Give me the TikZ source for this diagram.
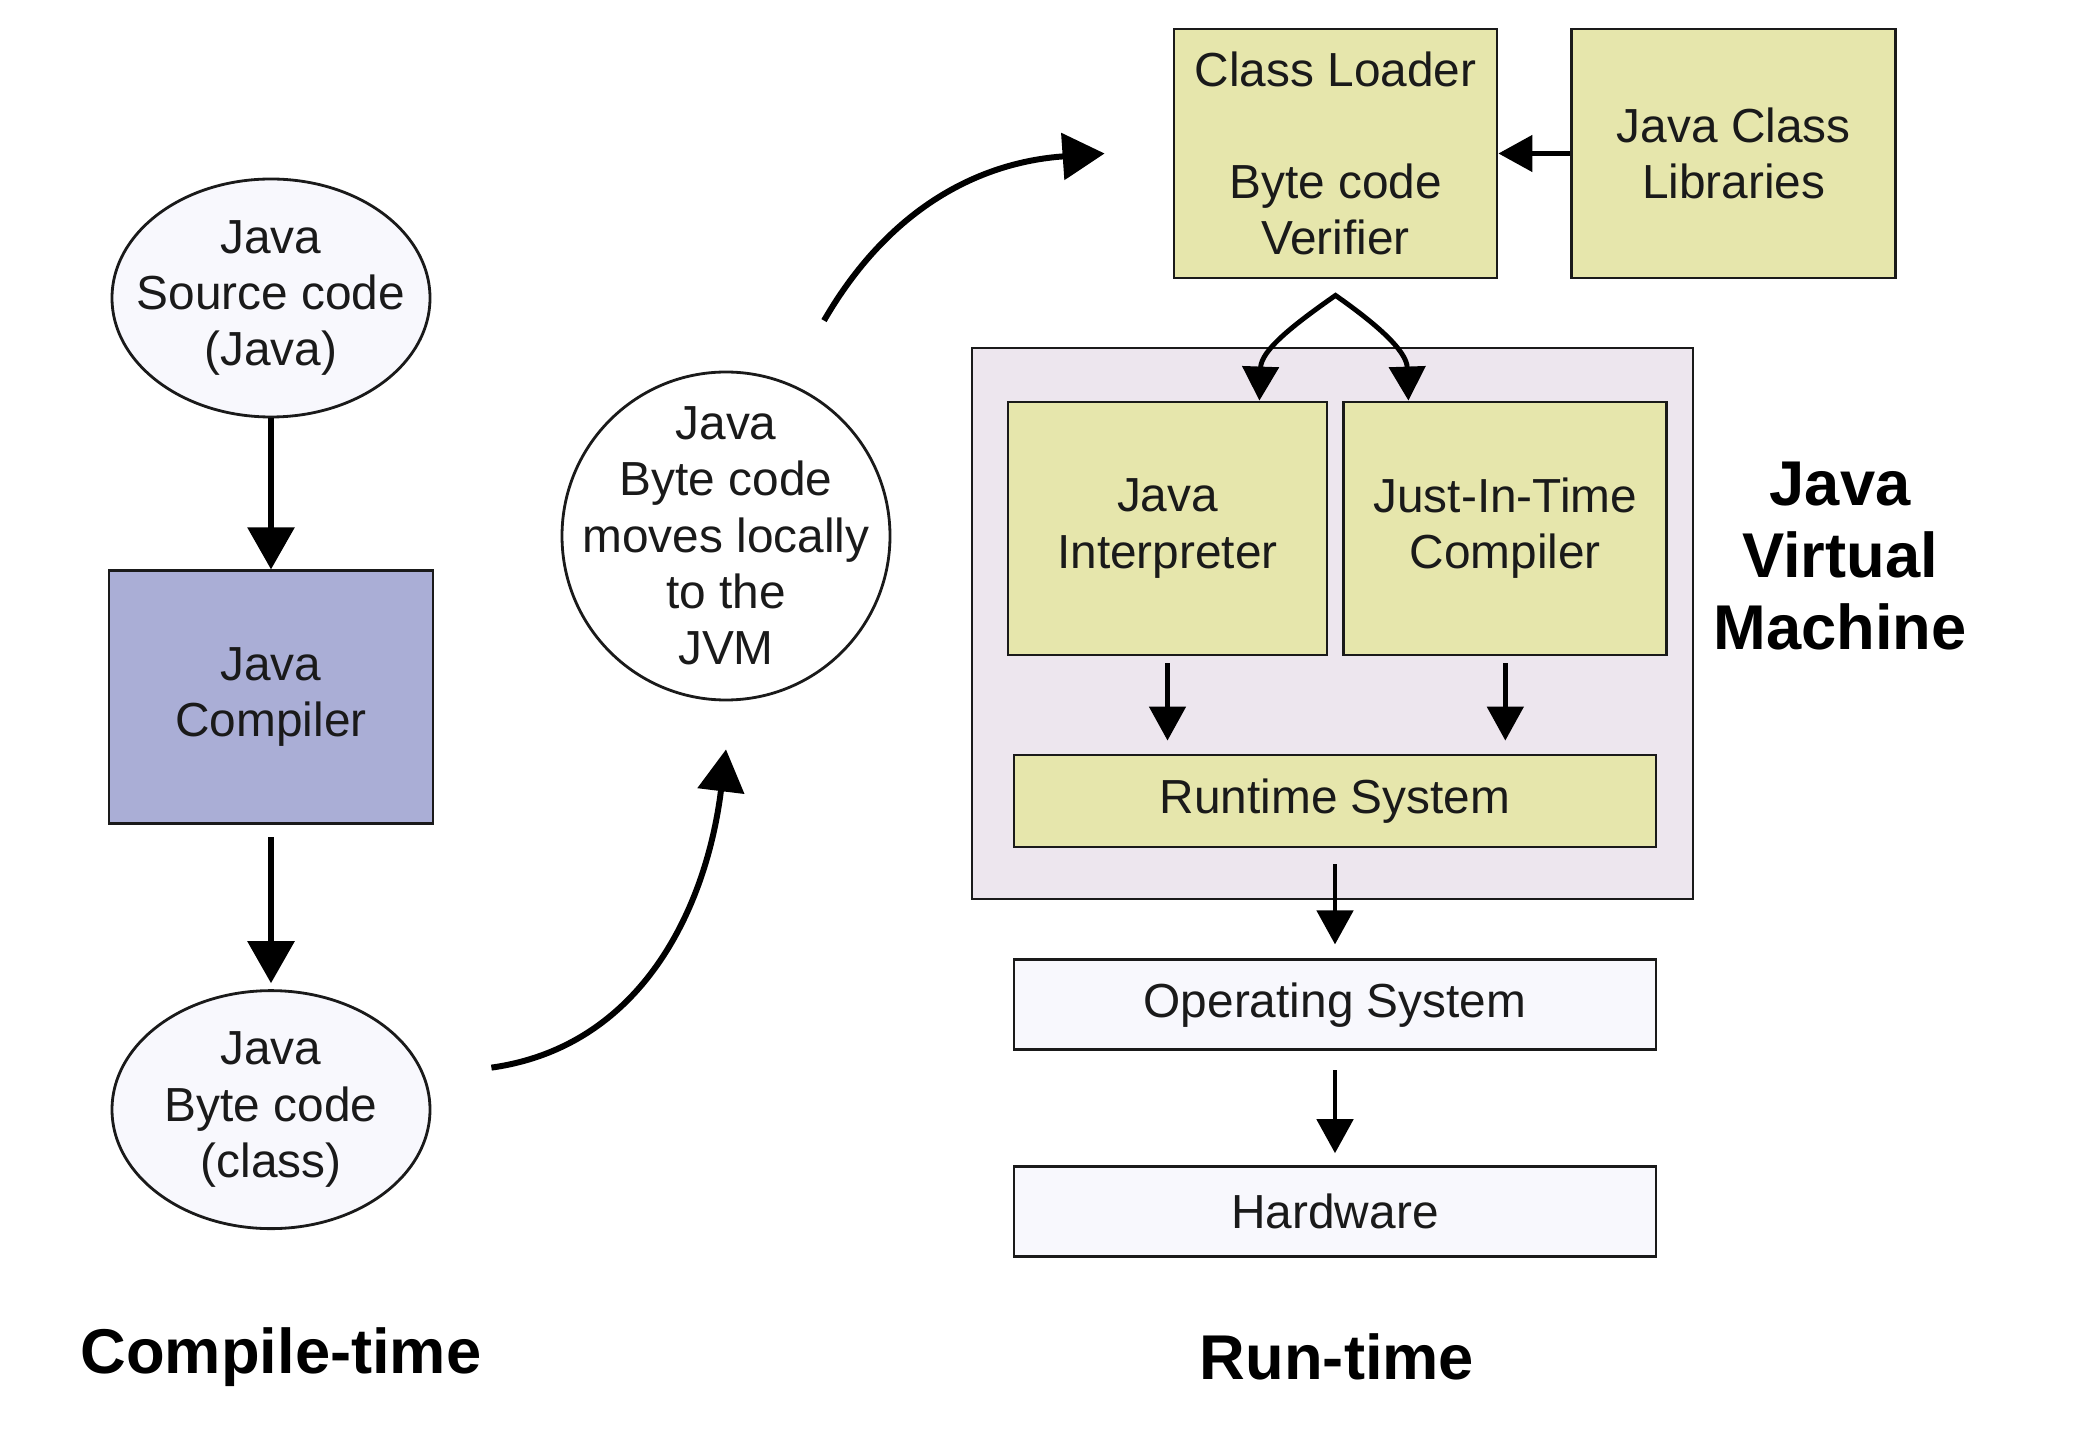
\documentclass[tikz,border=0pt]{standalone}
\usepackage{fontspec}
\setmainfont{Liberation Sans}
\usetikzlibrary{positioning, arrows.meta, calc, shapes.geometric}

\definecolor{khaki}{RGB}{230,230,172}
\definecolor{lavender}{RGB}{170,174,214}
\definecolor{jvmpink}{RGB}{237,230,238}
\definecolor{paleblue}{RGB}{248,248,253}
\definecolor{ink}{RGB}{26,26,26}

\begin{document}
\begin{tikzpicture}[
  >={Triangle[width=0.36cm, length=0.34cm]},
  every node/.style={font=\fontsize{13.6}{16}\selectfont, text=ink},
  blk/.style   = {draw=ink, line width=0.8pt, align=center, inner sep=2pt},
  lbl/.style   = {align=center},
  oval/.style  = {blk, ellipse, fill=paleblue, minimum width=3.18cm, minimum height=2.38cm},
  tan/.style   = {blk, fill=khaki},
  sys/.style   = {blk, fill=paleblue, minimum width=6.42cm, minimum height=0.9cm},
  title/.style = {font=\fontsize{18}{20.5}\selectfont\bfseries, align=center, text=black},
  big/.style   = {-{Triangle[width=0.46cm, length=0.42cm]}, line width=1.7pt},
  arr/.style   = {->, line width=1.4pt},
]
  \fill[white] (0,0) rectangle (20.76,14.34);
  \useasboundingbox (0,0) rectangle (20.76,14.34);

  % Compile-time column: source -> compiler -> class file.
  \node[oval] (src) at (2.71,11.36) {};
  \node[lbl] at (src) {Java\\Source code\\(Java)};
  \node[blk, fill=lavender, minimum width=3.24cm, minimum height=2.53cm,
        below=1.51cm of src] (javac) {Java\\Compiler};
  \node[oval, below=1.64cm of javac] (cls) {};
  \node[lbl] at (cls) {Java\\Byte code\\(class)};
  \draw[big] (src) -- (javac);
  \draw[big, shorten <=0.12cm, shorten >=0.06cm] (javac) -- (cls);

  % Byte code travels to the JVM.
  \node[blk, circle, fill=white, minimum size=3.28cm] (move) at (7.26,8.98) {};
  \node[lbl] at (move) {Java\\Byte code\\moves locally\\to the\\JVM};
  \coordinate (c1) at ([shift={(0.6,0.42)}]cls.east);
  \coordinate (c2) at ([shift={(0.98,0.5)}]move.north);
  \draw[big] (c1) to[out=8, in=-97] ([yshift=-0.48cm]move.south);

  % Run-time: loader, JVM and the layers under it.
  \node[tan, minimum width=3.23cm, minimum height=2.49cm] (loader) at (13.355,12.805)
        {Class Loader\\[\baselineskip]Byte code\\Verifier};
  \node[tan, minimum width=3.24cm, minimum height=2.49cm, right=0.72cm of loader] (libs)
        {Java Class\\Libraries};
  \draw[big] (c2) to[out=60, in=184] ([xshift=-0.68cm]loader.west);
  \draw[arr] (libs) -- (loader);

  \node[blk, fill=jvmpink, minimum width=7.21cm, minimum height=5.51cm] (jvm) at (13.325,8.105) {};
  \node[tan, minimum width=3.19cm, minimum height=2.53cm] (interp) at (11.675,9.055) {Java\\Interpreter};
  \node[tan, minimum width=3.23cm, minimum height=2.53cm, right=0.14cm of interp] (jit) {Just-In-Time\\Compiler};
  \node[tan, minimum width=6.42cm, minimum height=0.92cm] (rts) at (13.35,6.33) {Runtime System};
  \node[sys, below=1.1cm of rts] (os) {Operating System};
  \node[sys, below=1.14cm of os]  (hw) {Hardware};
  \node[title] (jvmlbl) at (18.40,8.78) {Java\\Virtual\\Machine};

  \draw[arr, <->] ([xshift=-0.69cm]interp.north east) to[out=88, in=215]
        ([yshift=-0.16cm]loader.south) to[out=-35, in=92] ([xshift=0.66cm]jit.north west);
  \foreach \a in {interp, jit}
     \draw[arr, shorten <=0.07cm, shorten >=0.13cm] (\a.south) -- (\a.south |- rts.north);
  \draw[arr, shorten <=0.16cm, shorten >=0.14cm] (rts) -- (os);
  \draw[arr, shorten <=0.19cm, shorten >=0.12cm] (os) -- (hw);

  \node[title] (ct) at (2.81,0.77)  {Compile-time};
  \node[title] (rt) at (13.37,0.77) {Run-time};
\end{tikzpicture}
\end{document}
